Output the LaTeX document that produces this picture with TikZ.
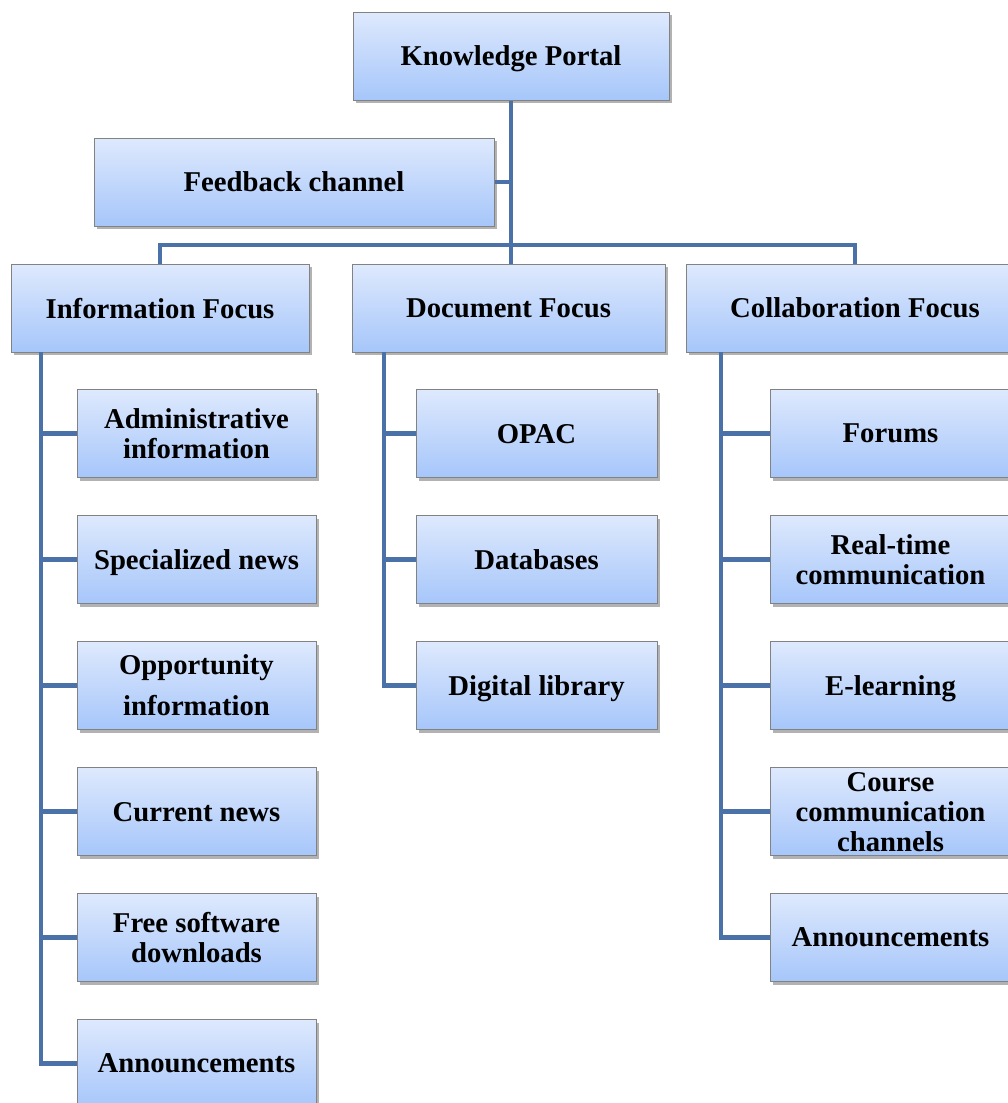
\documentclass[tikz,border=0pt]{standalone}
\usepackage{fontspec}
\setmainfont{Liberation Serif}
\usetikzlibrary{shadows}
\definecolor{conn}{RGB}{74,114,168}
\definecolor{boxtop}{RGB}{222,233,253}
\definecolor{boxbot}{RGB}{166,198,250}
\definecolor{boxline}{RGB}{130,130,130}
\begin{document}
\begin{tikzpicture}[x=1pt,y=-1pt,
  box/.style={draw=boxline, line width=1pt, top color=boxtop, bottom color=boxbot,
    minimum height=88pt, inner sep=0pt, align=center, text depth=0pt,
    font=\fontsize{28.7}{30}\selectfont\bfseries,
    drop shadow={shadow xshift=3pt, shadow yshift=-3pt, fill=black, opacity=0.3}},
  wide/.style={box, minimum width=#1},
  link/.style={draw=conn, line width=4.5pt, line join=miter}]
\useasboundingbox (0,0) rectangle (1008,1103);
\clip (0,0) rectangle (1008,1103);

\coordinate (bar) at (511,245);
\coordinate (ib) at (41,352);
\coordinate (db) at (384,352);
\coordinate (cb) at (721,352);

\node[wide=316pt] (kp) at (511,56) {Knowledge Portal};
\node[wide=400pt] (fb) at (294,182) {Feedback channel};

\node[wide=298pt] (info) at (160,308) {Information Focus};
\node[wide=313pt] (doc) at (508.5,308) {Document Focus};
\node[wide=338pt] (coll) at (855,308) {Collaboration Focus};

\node[wide=239pt] (i1) at (196.5,433.5) {Administrative\\information};
\node[wide=239pt] (i2) at (196.5,559.5) {Specialized news};
\node[wide=239pt, font=\fontsize{28.7}{41}\selectfont\bfseries] (i3) at (196.5,685.5) {Opportunity\\information};
\node[wide=239pt] (i4) at (196.5,811.5) {Current news};
\node[wide=239pt] (i5) at (196.5,937.5) {Free software\\downloads};
\node[wide=239pt] (i6) at (196.5,1063.5) {Announcements};

\node[wide=241pt] (d1) at (536.5,433.5) {OPAC};
\node[wide=241pt] (d2) at (536.5,559.5) {Databases};
\node[wide=241pt] (d3) at (536.5,685.5) {Digital library};

\node[wide=241pt] (c1) at (890.5,433.5) {Forums};
\node[wide=241pt] (c2) at (890.5,559.5) {Real-time\\communication};
\node[wide=241pt] (c3) at (890.5,685.5) {E-learning};
\node[wide=241pt] (c4) at (890.5,811.5) {Course\\communication\\channels};
\node[wide=241pt] (c5) at (890.5,937.5) {Announcements};

\draw[link] (kp.south) -- (bar);
\draw[link] (fb.east) -- (fb.east -| kp.south);
\draw[link] (info.north) -- (info.north |- bar) -- (coll.north |- bar) -- (coll.north);
\draw[link] (bar) -- (doc.north -| bar);

\foreach \c in {i1,i2,i3,i4,i5,i6}{\draw[link] (ib) |- (\c.west);}
\foreach \c in {d1,d2,d3}{\draw[link] (db) |- (\c.west);}
\foreach \c in {c1,c2,c3,c4,c5}{\draw[link] (cb) |- (\c.west);}
\end{tikzpicture}
\end{document}
